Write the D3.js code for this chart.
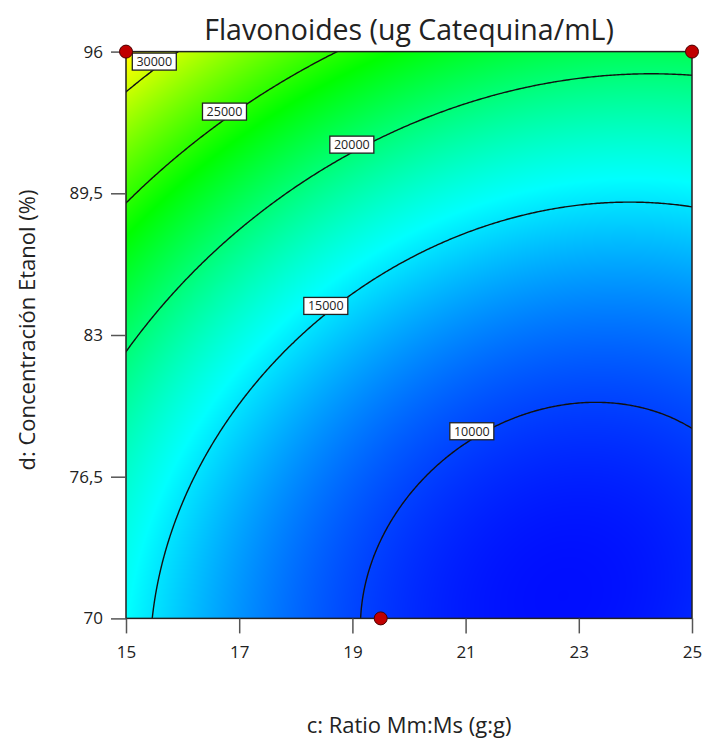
<!DOCTYPE html>
<html>
<head>
<meta charset="utf-8">
<script src="https://cdn.jsdelivr.net/npm/d3@7"></script>
<style>
  body { margin: 0; background: #fff; }
  svg text { font-family: "Open Sans", "Noto Sans", sans-serif; fill: #222; }
</style>
</head>
<body>
<div id="chart"></div>
<script>
// quadratic model in coded factors (c: 15..25 -> -1..1, d: 70..96 -> -1..1)
var termNames = ["Intercept", "C", "D", "CD", "C^2", "D^2"];
var termCoefs = [12855, -4440, 7034, -1068, 3170, 3510];

var cRange = [15, 25];
var dRange = [70, 96];
var cTicks = [15, 17, 19, 21, 23, 25];
var dTicks = [70, 76.5, 83, 89.5, 96];
var dTickLabels = ["70", "76,5", "83", "89,5", "96"];

// contour levels and the c value where each label sits
var contourLevels = [10000, 15000, 20000, 25000, 30000];
var labelAtC = [21.11, 18.53, 18.99, 16.74, 15.5];

// design points
var designC = [15, 25, 19.5];
var designD = [96, 96, 70];

// colour ramp
var colorValues = [8000, 15800, 23700, 31600, 39500];
var colorNames = ["#0000ff", "#00ffff", "#00ff00", "#ffff00", "#ff0000"];

var W = 702, H = 745;
var margin = {top: 51.6, left: 126, right: 10, bottom: 126.6};
var pw = W - margin.left - margin.right,
    ph = H - margin.top - margin.bottom;

var x = d3.scaleLinear().domain(cRange).range([0, pw]);
var y = d3.scaleLinear().domain(dRange).range([ph, 0]);
var color = d3.scaleLinear().domain(colorValues).range(colorNames).clamp(true);

function response(c, d) {
  var A = (c - (cRange[0] + cRange[1]) / 2) / ((cRange[1] - cRange[0]) / 2);
  var B = (d - (dRange[0] + dRange[1]) / 2) / ((dRange[1] - dRange[0]) / 2);
  var t = [1, A, B, A * B, A * A, B * B];
  return d3.sum(t, function (v, k) { return v * termCoefs[k]; });
}

var svg = d3.select("#chart").append("svg")
    .attr("width", W)
    .attr("height", H);

svg.append("defs").append("clipPath").attr("id", "plotclip")
  .append("rect").attr("width", pw).attr("height", ph);

var g = svg.append("g")
    .attr("transform", "translate(" + margin.left + "," + margin.top + ")");

// colour fill drawn into a canvas then used as an image
var cw = Math.round(pw), chh = Math.round(ph);
var canvas = document.createElement("canvas");
canvas.width = cw; canvas.height = chh;
var ctx = canvas.getContext("2d");
var img = ctx.createImageData(cw, chh);
for (var j = 0; j < chh; j++) {
  for (var i = 0; i < cw; i++) {
    var col = d3.rgb(color(response(x.invert((i + 0.5) * pw / cw), y.invert((j + 0.5) * ph / chh))));
    var p = (j * cw + i) * 4;
    img.data[p] = col.r; img.data[p + 1] = col.g; img.data[p + 2] = col.b; img.data[p + 3] = 255;
  }
}
ctx.putImageData(img, 0, 0);

g.append("image")
  .attr("width", pw)
  .attr("height", ph)
  .attr("preserveAspectRatio", "none")
  .attr("href", canvas.toDataURL());

// contour lines
var nx = 300, ny = 300;
var values = new Array(nx * ny);
for (var j = 0; j < ny; j++) {
  for (var i = 0; i < nx; i++) {
    var c = cRange[0] + i * (cRange[1] - cRange[0]) / (nx - 1);
    var d = dRange[1] - j * (dRange[1] - dRange[0]) / (ny - 1);
    values[j * nx + i] = response(c, d);
  }
}
var contours = d3.contours().size([nx, ny]).thresholds(contourLevels)(values);
var sx = pw / (nx - 1), sy = ph / (ny - 1);
var gridPath = d3.geoPath(d3.geoTransform({
  point: function (u, v) { this.stream.point((u - 0.5) * sx, (v - 0.5) * sy); }
}));

g.append("g")
    .attr("clip-path", "url(#plotclip)")
  .selectAll("path")
  .data(contours)
  .enter()
  .append("path")
    .attr("d", gridPath)
    .attr("fill", "none")
    .attr("stroke", "#111")
    .attr("stroke-width", 1.4);

// contour labels
function levelD(c, level) {
  var lo = dRange[0], hi = dRange[1];
  for (var k = 0; k < 40; k++) {
    var mid = (lo + hi) / 2;
    if (response(c, mid) < level) lo = mid; else hi = mid;
  }
  return (lo + hi) / 2;
}

var bw = 44, bh = 17;
var labels = g.append("g").selectAll("g")
  .data(contourLevels)
  .enter()
  .append("g")
    .attr("transform", function (lv, k) {
      var px = x(labelAtC[k]);
      var py = y(levelD(labelAtC[k], lv)) - 8;
      px = Math.max(bw / 2 + 6, Math.min(pw - bw / 2 - 1, px));
      py = Math.max(bh / 2 + 1.5, Math.min(ph - bh / 2 - 1, py));
      return "translate(" + px + "," + py + ")";
    });

labels.append("rect")
  .attr("x", -bw / 2)
  .attr("y", -bh / 2)
  .attr("width", bw)
  .attr("height", bh)
  .attr("fill", "#fff")
  .attr("stroke", "#222")
  .attr("stroke-width", 1.3);

labels.append("text")
  .attr("text-anchor", "middle")
  .attr("dy", "0.36em")
  .style("font-size", "12.5px")
  .text(function (lv) { return lv; });

// frame
g.append("rect")
  .attr("width", pw)
  .attr("height", ph)
  .attr("fill", "none")
  .attr("stroke", "#222")
  .attr("stroke-width", 1.5);

// axes
var yAxis = g.append("g")
  .call(d3.axisLeft(y).tickValues(dTicks)
    .tickFormat(function (v, k) { return dTickLabels[k]; })
    .tickSize(15).tickPadding(8));
var xAxis = g.append("g")
  .attr("transform", "translate(0," + ph + ")")
  .call(d3.axisBottom(x).tickValues(cTicks).tickSize(15).tickPadding(13));

[xAxis, yAxis].forEach(function (a) {
  a.select(".domain").remove();
  a.selectAll(".tick line").attr("stroke", "#555").attr("stroke-width", 1.5);
  a.selectAll(".tick text").style("font-size", "17px").attr("fill", "#222")
    .style("font-family", "'Open Sans', 'Noto Sans', sans-serif");
});

// design points
g.append("g").selectAll("circle")
  .data(designC)
  .enter()
  .append("circle")
    .attr("cx", function (c) { return x(c); })
    .attr("cy", function (c, k) { return y(designD[k]); })
    .attr("r", 6.5)
    .attr("fill", "#c00000")
    .attr("stroke", "#4a0000")
    .attr("stroke-width", 1);

// titles
svg.append("text")
  .attr("x", margin.left + pw / 2)
  .attr("y", 40)
  .attr("text-anchor", "middle")
  .style("font-size", "28.5px")
  .text("Flavonoides (ug Catequina/mL)");

svg.append("text")
  .attr("x", margin.left + pw / 2)
  .attr("y", 733)
  .attr("text-anchor", "middle")
  .style("font-size", "22px")
  .text("c: Ratio Mm:Ms (g:g)");

svg.append("text")
  .attr("transform", "translate(35," + 330 + ") rotate(-90)")
  .attr("text-anchor", "middle")
  .style("font-size", "22px")
  .text("d: Concentración Etanol (%)");
</script>
</body>
</html>
